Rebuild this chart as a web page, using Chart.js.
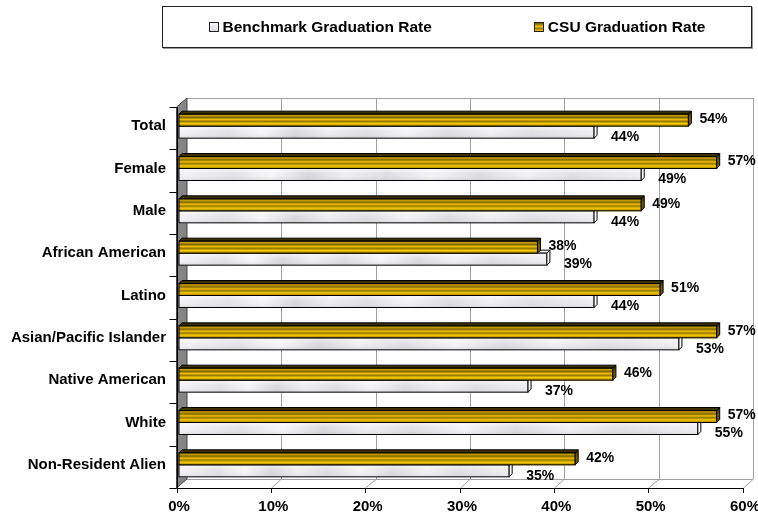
<!DOCTYPE html>
<html><head><meta charset="utf-8">
<script src="https://cdn.jsdelivr.net/npm/chart.js@4.4.1/dist/chart.umd.min.js"></script>
<style>
html,body{margin:0;padding:0;background:#fff;}
#wrap{position:relative;width:758px;height:516px;overflow:hidden;}
#c{position:absolute;left:0;top:0;}
#legend{position:absolute;left:162px;top:6px;width:588px;height:40px;border:1px solid #222;box-shadow:1px 1px 0 #999;display:flex;align-items:center;justify-content:center;gap:102px;font:bold 15.5px "Liberation Sans",Arial,sans-serif;color:#000;background:#fff;}
#legend .it{display:flex;align-items:center;white-space:nowrap;}
#legend .sw{width:8px;height:8px;border:1px solid #222;margin-right:4px;}
</style></head>
<body><div id="wrap"><canvas id="c" width="758" height="516"></canvas><div id="legend"></div></div>
<script>
const categories = ['Total','Female','Male','African American','Latino','Asian/Pacific Islander','Native American','White','Non-Resident Alien'];
const benchmarkRates = [44,49,44,39,44,53,37,55,35];
const csuRates = [54,57,49,38,51,57,46,57,42];
const xTickValues = [0,10,20,30,40,50,60];
const seriesNames = ['Benchmark Graduation Rate','CSU Graduation Rate'];

const FONT = '"Liberation Sans", Arial, sans-serif';
const FRONT = {dx:-2.5, dy:2};
const BACK = {dx:8, dy:-7};
const DEPTH = 3;

function goldGradient(ctx, top, bottom){
  const g = ctx.createLinearGradient(0, top, 0, bottom);
  g.addColorStop(0, '#5e4b00');
  g.addColorStop(0.12, '#c9a200');
  g.addColorStop(0.28, '#806500');
  g.addColorStop(0.45, '#f0c000');
  g.addColorStop(0.6, '#947500');
  g.addColorStop(0.78, '#f7ca00');
  g.addColorStop(1, '#a08000');
  return g;
}
function marbleGradient(ctx, left, right){
  const g = ctx.createLinearGradient(left, 0, right, 0);
  const stops = [[0,'#f2f2f4'],[0.12,'#e2e2e6'],[0.2,'#f6f6f8'],[0.28,'#d8d8dc'],[0.36,'#eeeef0'],[0.45,'#dedee2'],[0.55,'#f4f4f6'],[0.65,'#dcdce0'],[0.75,'#f0f0f2'],[0.85,'#e0e0e4'],[1,'#eeeef0']];
  stops.forEach(s=>g.addColorStop(s[0],s[1]));
  return g;
}

const framePlugin = {
  id:'frame3d',
  beforeDatasetsDraw(chart){
    const {ctx, chartArea:a, scales:{x}} = chart;
    ctx.save();
    const bl = a.left + BACK.dx, bt = a.top + BACK.dy, bb = a.bottom + BACK.dy, br = a.right + BACK.dx;
    const fl = a.left + FRONT.dx, ft = a.top + FRONT.dy, fb = a.bottom + FRONT.dy, fr = a.right + FRONT.dx;
    ctx.fillStyle = '#ffffff';
    ctx.fillRect(bl, bt, br-bl, bb-bt);
    ctx.strokeStyle = '#a0a0a0'; ctx.lineWidth = 1;
    xTickValues.forEach(v=>{
      if(v===0) return;
      const px = Math.round(x.getPixelForValue(v)+BACK.dx)+0.5;
      ctx.beginPath(); ctx.moveTo(px, bt); ctx.lineTo(px, bb); ctx.stroke();
      const fx = Math.round(x.getPixelForValue(v)+FRONT.dx)+0.5;
      ctx.beginPath(); ctx.moveTo(fx, fb); ctx.lineTo(px, bb); ctx.stroke();
    });
    ctx.beginPath(); ctx.moveTo(bl, Math.round(bt)+0.5); ctx.lineTo(br, Math.round(bt)+0.5); ctx.stroke();
    ctx.beginPath(); ctx.moveTo(bl, Math.round(bb)+0.5); ctx.lineTo(br, Math.round(bb)+0.5); ctx.stroke();
    ctx.fillStyle = '#858585';
    ctx.beginPath(); ctx.moveTo(fl, ft); ctx.lineTo(bl, bt); ctx.lineTo(bl, bb); ctx.lineTo(fl, fb); ctx.closePath(); ctx.fill();
    ctx.strokeStyle = '#444'; ctx.stroke();
    ctx.strokeStyle = '#000';
    ctx.beginPath(); ctx.moveTo(Math.round(fl)+0.5, ft); ctx.lineTo(Math.round(fl)+0.5, fb); ctx.stroke();
    ctx.beginPath(); ctx.moveTo(fl, Math.round(fb)+0.5); ctx.lineTo(fr+1, Math.round(fb)+0.5); ctx.stroke();
    xTickValues.forEach(v=>{
      const fx = Math.round(x.getPixelForValue(v)+FRONT.dx)+0.5;
      ctx.beginPath(); ctx.moveTo(fx, fb); ctx.lineTo(fx, fb+5); ctx.stroke();
    });
    const step = (a.bottom - a.top)/categories.length;
    for(let i=0;i<=categories.length;i++){
      const yy = Math.round(a.top + i*step + FRONT.dy)+0.5;
      ctx.beginPath(); ctx.moveTo(fl-7, yy); ctx.lineTo(fl, yy); ctx.stroke();
    }
    ctx.restore();
  },
  afterDatasetsDraw(chart){
    const ctx = chart.ctx;
    ctx.save();
    [1,0].forEach(di=>{
      const meta = chart.getDatasetMeta(di);
      meta.data.forEach(el=>{
        const p = el.getProps(['x','y','base','height'], true);
        const top = p.y - p.height/2, bot = p.y + p.height/2;
        const l = p.base, r = p.x;
        ctx.lineWidth = 1; ctx.strokeStyle = '#000';
        if(di===0){
          ctx.fillStyle = '#3a3000';
          ctx.beginPath(); ctx.moveTo(l, top); ctx.lineTo(l+DEPTH, top-DEPTH); ctx.lineTo(r+DEPTH, top-DEPTH); ctx.lineTo(r, top); ctx.closePath(); ctx.fill(); ctx.stroke();
          ctx.fillStyle = goldGradient(ctx, top, bot);
          ctx.fillRect(l, top, r-l, bot-top);
          ctx.strokeRect(l, top, r-l, bot-top);
          const eg = ctx.createLinearGradient(0, top-DEPTH, 0, bot);
          eg.addColorStop(0,'#2e2600'); eg.addColorStop(0.5,'#7a6200'); eg.addColorStop(1,'#5a4800');
          ctx.fillStyle = eg;
          ctx.beginPath(); ctx.moveTo(r, top); ctx.lineTo(r+DEPTH, top-DEPTH); ctx.lineTo(r+DEPTH, bot-DEPTH); ctx.lineTo(r, bot); ctx.closePath(); ctx.fill(); ctx.stroke();
        } else {
          ctx.fillStyle = '#ffffff';
          ctx.beginPath(); ctx.moveTo(l, top); ctx.lineTo(l+DEPTH, top-DEPTH); ctx.lineTo(r+DEPTH, top-DEPTH); ctx.lineTo(r, top); ctx.closePath(); ctx.fill(); ctx.stroke();
          ctx.fillStyle = marbleGradient(ctx, l, r);
          ctx.fillRect(l, top, r-l, bot-top);
          const vg = ctx.createLinearGradient(0, top, 0, bot);
          vg.addColorStop(0,'rgba(255,255,255,0.6)'); vg.addColorStop(0.5,'rgba(255,255,255,0)'); vg.addColorStop(1,'rgba(120,120,130,0.15)');
          ctx.fillStyle = vg; ctx.fillRect(l, top, r-l, bot-top);
          ctx.strokeRect(l, top, r-l, bot-top);
          ctx.fillStyle = '#ffffff';
          ctx.beginPath(); ctx.moveTo(r, top); ctx.lineTo(r+DEPTH, top-DEPTH); ctx.lineTo(r+DEPTH, bot-DEPTH); ctx.lineTo(r, bot); ctx.closePath(); ctx.fill(); ctx.stroke();
        }
      });
    });
    ctx.fillStyle = '#000';
    ctx.font = 'bold 14px ' + FONT;
    ctx.textAlign = 'left'; ctx.textBaseline = 'middle';
    [0,1].forEach(di=>{
      const meta = chart.getDatasetMeta(di);
      const vals = chart.data.datasets[di].data;
      meta.data.forEach((el,i)=>{
        const p = el.getProps(['x','y'], true);
        if(di===0) ctx.fillText(vals[i]+'%', p.x + 11, p.y - 1);
        else ctx.fillText(vals[i]+'%', p.x + 17, p.y + 5);
      });
    });
    ctx.restore();
  }
};

const chart = new Chart(document.getElementById('c'), {
  type:'bar',
  data:{
    labels: categories,
    datasets:[
      {label: seriesNames[1], data: csuRates, backgroundColor:'#d4a800', borderWidth:0, barThickness:12},
      {label: seriesNames[0], data: benchmarkRates, backgroundColor:'#e8e8ec', borderWidth:0, barThickness:12}
    ]
  },
  options:{
    indexAxis:'y',
    responsive:false,
    animation:false,
    layout:{padding:{top:105,left:0,right:0,bottom:0}},
    plugins:{legend:{display:false}, tooltip:{enabled:false}},
    scales:{
      x:{
        min:0, max:60,
        afterBuildTicks(s){ s.ticks = xTickValues.map(v=>({value:v})); },
        ticks:{callback:v=>v+'%', color:'#000', font:{family:FONT, weight:'bold', size:15}, padding:12, maxRotation:0},
        grid:{display:false, drawTicks:false},
        border:{display:false},
        afterFit(s){ s.height = 30; s.paddingLeft = 0; s.paddingRight = 13; }
      },
      y:{
        ticks:{color:'#000', font:{family:FONT, weight:'bold', size:15}, padding:13},
        grid:{display:false, drawTicks:false},
        border:{display:false},
        afterFit(s){ s.width = 179; s.paddingTop = 0; s.paddingBottom = 0; }
      }
    }
  },
  plugins:[framePlugin]
});

const legend = document.getElementById('legend');
[1,0].forEach(di=>{
  const ds = chart.data.datasets[di];
  const it = document.createElement('div'); it.className='it';
  const sw = document.createElement('span'); sw.className='sw';
  sw.style.background = di===0 ? 'linear-gradient(#6b5600,#f0c000 45%,#9c7c00 70%,#f7ca00)' : 'linear-gradient(#f6f6f8,#dcdce0)';
  const tx = document.createElement('span'); tx.textContent = ds.label;
  it.appendChild(sw); it.appendChild(tx); legend.appendChild(it);
});
</script></body></html>
